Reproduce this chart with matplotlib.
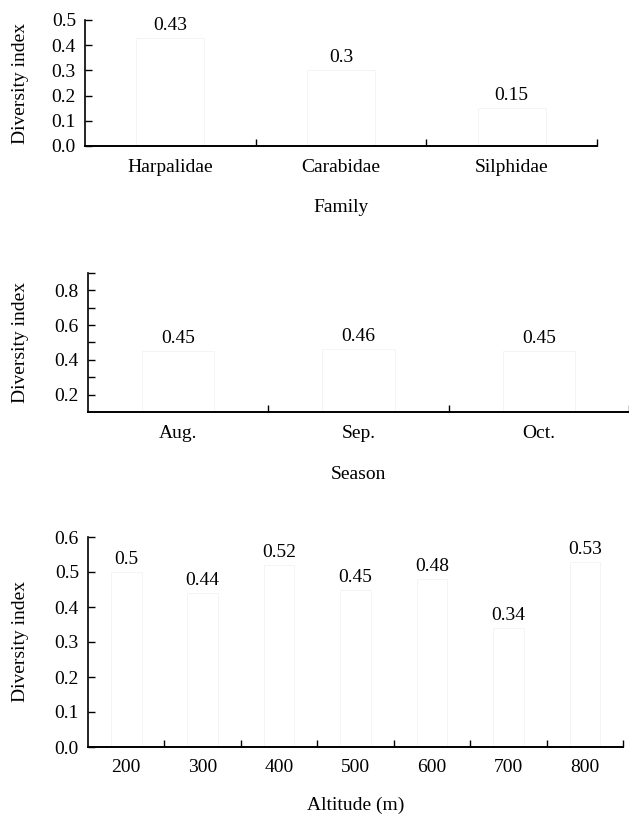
import matplotlib
matplotlib.use("Agg")
import matplotlib.pyplot as plt
import matplotlib.transforms as mtransforms
import numpy as np

plt.rcParams["font.family"] = ["Liberation Serif", "DejaVu Serif"]
plt.rcParams["font.size"] = 14

family_names = ["Harpalidae", "Carabidae", "Silphidae"]
family_values = [0.43, 0.30, 0.15]
family_labels = ["0.43", "0.3", "0.15"]

season_names = ["Aug.", "Sep.", "Oct."]
season_values = [0.45, 0.46, 0.45]
season_labels = ["0.45", "0.46", "0.45"]

altitude_names = ["200", "300", "400", "500", "600", "700", "800"]
altitude_values = [0.50, 0.44, 0.52, 0.45, 0.48, 0.34, 0.53]
altitude_labels = ["0.5", "0.44", "0.52", "0.45", "0.48", "0.34", "0.53"]

W, H = 629, 816


def draw_panel(fig, ax, names, values, labels, xlabel, ylim, major, minor, xlabel_y):
    x = np.arange(len(names))
    ax.bar(x, values, width=0.4, color="white", edgecolor="#f3f3f3", linewidth=0.6)
    for xi, v, lab in zip(x, values, labels):
        ax.annotate(lab, (xi, v), xytext=(0, 9), textcoords="offset points",
                    ha="center", va="center", fontsize=14)
    ax.set_xlim(-0.5, len(names) - 0.5)
    ax.set_ylim(*ylim)
    ax.set_xticks(x)
    ax.set_xticklabels(names)
    ax.set_xticks(np.arange(len(names)) + 0.5, minor=True)
    ax.tick_params(axis="x", which="major", length=0, pad=9)
    ax.tick_params(axis="x", which="minor", direction="in", length=5, width=1)
    ax.set_yticks(major)
    ax.set_yticklabels([f"{t:.1f}" for t in major])
    if minor is not None:
        ax.set_yticks(minor, minor=True)
    ax.tick_params(axis="y", which="both", direction="in", length=5, width=1, pad=6.5)
    for side in ("top", "right"):
        ax.spines[side].set_visible(False)
    ax.spines["left"].set_linewidth(1.2)
    ax.spines["bottom"].set_linewidth(1.4)
    ax.set_xlabel(xlabel)
    ax.set_ylabel("Diversity index")
    ax.yaxis.set_label_coords(
        29 / W, 0.5, transform=mtransforms.blended_transform_factory(fig.transFigure, ax.transAxes))
    ax.xaxis.set_label_coords(
        0.5, 1 - xlabel_y / H, transform=mtransforms.blended_transform_factory(ax.transAxes, fig.transFigure))
    ax.xaxis.label.set_va("center")


fig = plt.figure(figsize=(W / 100, H / 100), dpi=100)

ax1 = fig.add_axes([85 / W, 1 - 146 / H, 512 / W, 126 / H])
draw_panel(fig, ax1, family_names, family_values, family_labels, "Family",
           (0, 0.5), list(np.round(np.arange(0, 0.51, 0.1), 1)), None, 207)

ax2 = fig.add_axes([88 / W, 1 - 412 / H, 541 / W, 139 / H])
draw_panel(fig, ax2, season_names, season_values, season_labels, "Season",
           (0.1, 0.9), [0.2, 0.4, 0.6, 0.8], [0.3, 0.5, 0.7, 0.9], 474)

ax3 = fig.add_axes([88 / W, 1 - 747 / H, 535 / W, 210 / H])
draw_panel(fig, ax3, altitude_names, altitude_values, altitude_labels, "Altitude (m)",
           (0, 0.6), list(np.round(np.arange(0, 0.61, 0.1), 1)), None, 805)

fig.savefig("out.png", dpi=100)
